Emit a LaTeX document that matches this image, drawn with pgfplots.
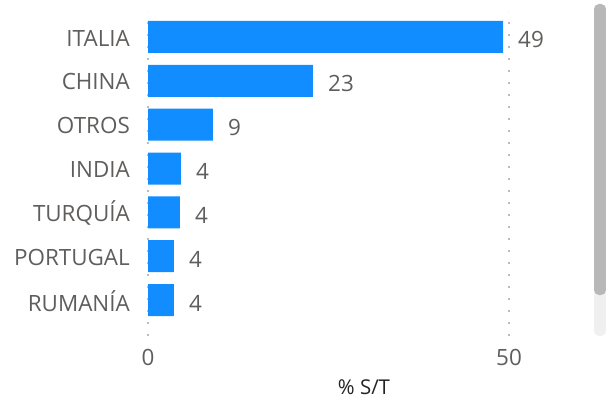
\documentclass[border=0pt]{standalone}
\usepackage{fontspec}
\setmainfont{Open Sans}
\usepackage{pgfplots}
\pgfplotsset{compat=1.18}
\definecolor{barblue}{HTML}{118DFF}
\definecolor{txtgray}{HTML}{605E5C}
\definecolor{gridgray}{HTML}{BDBBB9}
\definecolor{titlecol}{HTML}{252423}
\definecolor{thumbc}{HTML}{B8B8B8}
\definecolor{trackc}{HTML}{F0F0F0}
\begin{document}
\begin{tikzpicture}[x=1bp,y=1bp]
\useasboundingbox (0,0) rectangle (606,401);
\fill[trackc, rounded corners=5bp] (594,65) rectangle (606,397);
\fill[thumbc, rounded corners=5bp] (594,106) rectangle (606,397);
\begin{axis}[at={(148bp,65bp)}, anchor=south west, scale only axis,
 width=361bp, height=324bp,
 xmin=0, xmax=50, ymin=-0.82, ymax=6.57,
 xbar, bar width=32bp,
 xtick={0,50}, xticklabels={0,50},
 ytick={0,...,6}, yticklabels={RUMANÍA,PORTUGAL,TURQUÍA,INDIA,OTROS,CHINA,ITALIA},
 axis line style={draw=none}, major tick length=0pt,
 xmajorgrids, grid style={gridgray, line width=2bp, dash pattern=on 2bp off 10bp},
 tick label style={font=\fontsize{22.5}{26}\selectfont, text=txtgray},
 yticklabel style={anchor=east, inner sep=0pt, xshift=-18bp, yshift=-1bp},
 xticklabel style={anchor=north, inner sep=0pt, yshift=-13bp},
 nodes near coords, point meta=explicit symbolic,
 nodes near coords style={anchor=west, inner sep=0pt, xshift=15bp, yshift=-3bp, font=\fontsize{22.5}{26}\selectfont, text=txtgray},
 clip=false]
\addplot[fill=barblue, draw=none] table[x=v, y=p, meta=l] {
p v l
6 49.17 49
5 22.85 23
4 9.0 9
3 4.57 4
2 4.43 4
1 3.6 4
0 3.6 4
};
\end{axis}
\node[font=\fontsize{20.5}{24}\selectfont, text=titlecol] at (364,14) {\% S/T};
\end{tikzpicture}
\end{document}
